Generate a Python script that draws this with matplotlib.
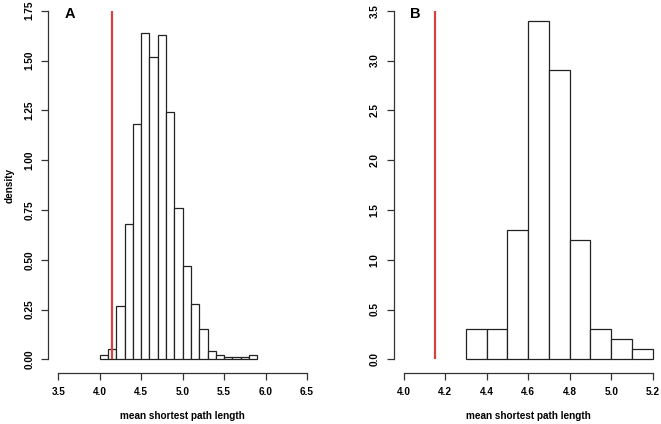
import numpy as np
import matplotlib
matplotlib.use("Agg")
import matplotlib.pyplot as plt

plt.rcParams['font.family'] = ['Liberation Sans', 'DejaVu Sans']
plt.rcParams['font.weight'] = 'bold'

# panel A: densities per 0.1 bin starting at 4.0
a_edges = np.round(np.arange(4.0, 5.91, 0.1), 2)
a_density = [0.02, 0.05, 0.27, 0.68, 1.18, 1.64, 1.52, 1.63, 1.24, 0.76,
             0.47, 0.28, 0.15, 0.04, 0.02, 0.01, 0.01, 0.01, 0.02]
a_xticks = [3.5, 4.0, 4.5, 5.0, 5.5, 6.0, 6.5]
a_yticks = [0.0, 0.25, 0.5, 0.75, 1.0, 1.25, 1.5, 1.75]

# panel B: densities per 0.1 bin starting at 4.3
b_edges = np.round(np.arange(4.3, 5.21, 0.1), 2)
b_density = [0.3, 0.3, 1.3, 3.4, 2.9, 1.2, 0.3, 0.2, 0.1]
b_xticks = [4.0, 4.2, 4.4, 4.6, 4.8, 5.0, 5.2]
b_yticks = [0.0, 0.5, 1.0, 1.5, 2.0, 2.5, 3.0, 3.5]

observed = 4.15
red = '#d9403f'

W, H = 661, 424
fig = plt.figure(figsize=(W / 100, H / 100), dpi=100)


def panel(px_x0, px_x1, px_y0, px_y1, edges, dens, xticks, yticks, yfmt,
          letter):
    # place axes so the first/last ticks land on the given pixels,
    # with R's 4% padding around the tick range
    xs = (px_x1 - px_x0) / (xticks[-1] - xticks[0])
    ys = (px_y0 - px_y1) / (yticks[-1] - yticks[0])
    xl0 = xticks[0] - (xticks[-1] - xticks[0]) * 0.04
    xl1 = xticks[-1] + (xticks[-1] - xticks[0]) * 0.04
    yl0 = yticks[0] - (yticks[-1] - yticks[0]) * 0.04
    yl1 = yticks[-1] + (yticks[-1] - yticks[0]) * 0.04
    left_px = px_x0 - (xticks[0] - xl0) * xs
    right_px = px_x1 + (xl1 - xticks[-1]) * xs
    bot_px = px_y0 + (yticks[0] - yl0) * ys
    top_px = px_y1 - (yl1 - yticks[-1]) * ys
    ax = fig.add_axes([left_px / W, 1 - bot_px / H,
                       (right_px - left_px) / W, (bot_px - top_px) / H])
    ax.set_xlim(xl0, xl1)
    ax.set_ylim(yl0, yl1)
    ax.bar(edges[:-1], dens, width=np.diff(edges), align='edge',
           facecolor='white', edgecolor='#222222', linewidth=0.9)
    ax.plot([observed, observed], [0, yticks[-1]], color=red, lw=1.6,
            solid_capstyle='butt')
    for s in ['top', 'right']:
        ax.spines[s].set_visible(False)
    ax.spines['left'].set_bounds(yticks[0], yticks[-1])
    ax.spines['bottom'].set_bounds(xticks[0], xticks[-1])
    for s in ['left', 'bottom']:
        ax.spines[s].set_linewidth(0.9)
        ax.spines[s].set_color('#333333')
    ax.set_xticks(xticks)
    ax.set_xticklabels([f'{v:.1f}' for v in xticks])
    ax.set_yticks(yticks)
    ax.set_yticklabels([yfmt.format(v) for v in yticks], rotation=90,
                       va='center')
    ax.tick_params(length=5, width=0.9, color='#333333', labelsize=7.2,
                   pad=5)
    ax.set_xlabel('mean shortest path length', fontsize=7.2,
                  fontweight='bold', labelpad=10)
    ax.text(0.08, 0.955, letter, transform=ax.transAxes, fontsize=10.5,
            fontweight='bold', va='center', ha='center')
    return ax


axA = panel(58.3, 307, 359.3, 10.7, a_edges, a_density,
            a_xticks, a_yticks, '{:.2f}', 'A')
axA.set_ylabel('density', fontsize=7.2, fontweight='bold', labelpad=7)
axB = panel(403.7, 652.7, 359.3, 10.7, b_edges, b_density,
            b_xticks, b_yticks, '{:.1f}', 'B')

fig.savefig('out.png', dpi=100)
